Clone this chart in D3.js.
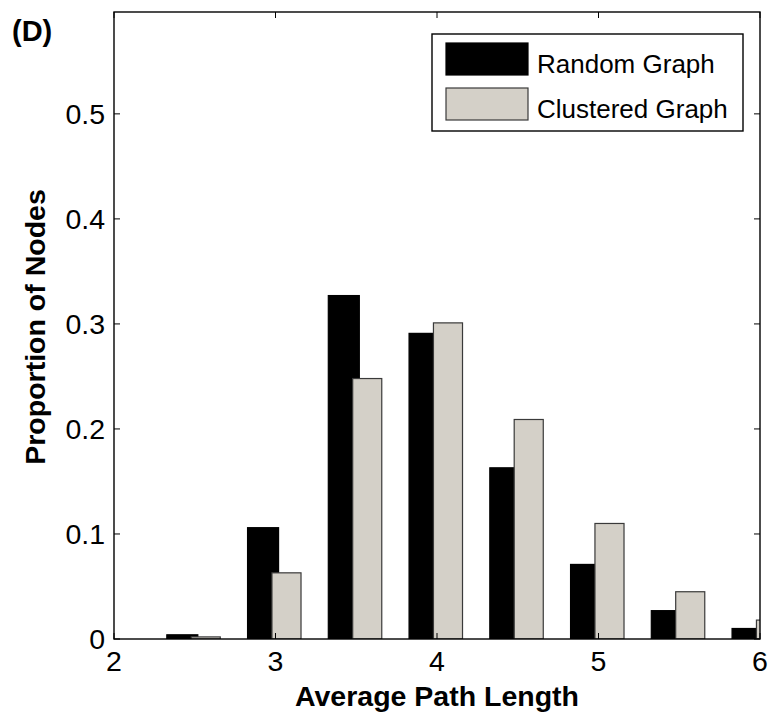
<!DOCTYPE html>
<html>
<head>
<meta charset="utf-8">
<script src="https://cdn.jsdelivr.net/npm/d3@7"></script>
<style>
  body { margin: 0; background: #fff; }
  svg { display: block; font-family: "Liberation Sans", Arial, sans-serif; }
</style>
</head>
<body>
<svg id="chart" width="775" height="719"></svg>
<script>
// bin centres (average path length)
var binCenters = [2.5, 3, 3.5, 4, 4.5, 5, 5.5, 6];
var randomGraph = [0.004, 0.106, 0.327, 0.291, 0.163, 0.071, 0.027, 0.010];
var clusteredGraph = [0.002, 0.063, 0.248, 0.301, 0.209, 0.110, 0.045, 0.018];
var seriesNames = ["Random Graph", "Clustered Graph"];
var xTicks = [2, 3, 4, 5, 6];
var yTicks = [0, 0.1, 0.2, 0.3, 0.4, 0.5];

var svg = d3.select("#chart"),
  margin = { top: 12, right: 15, bottom: 80, left: 114 },
  width = +svg.attr("width") - margin.left - margin.right,
  height = +svg.attr("height") - margin.top - margin.bottom,
  g = svg.append("g").attr("transform", "translate(" + margin.left + "," + margin.top + ")");

var x = d3.scaleLinear().domain([2, 6]).range([0, width]);
var y = d3.scaleLinear().domain([0, 0.597]).range([height, 0]);

svg.append("defs").append("clipPath").attr("id", "plotclip")
  .append("rect").attr("width", width).attr("height", height);

// bar extents relative to bin centre, in data units
var barSpan = [
  { key: "random", values: randomGraph, from: -0.173, to: 0.019, fill: "#000000", stroke: "#000000" },
  { key: "clustered", values: clusteredGraph, from: -0.022, to: 0.158, fill: "#d4d0c8", stroke: "#3a3a3a" }
];

var bars = g.append("g").attr("clip-path", "url(#plotclip)");

barSpan.forEach(function (s) {
  bars.append("g")
    .selectAll("rect")
    .data(binCenters.map(function (c, i) { return { c: c, v: s.values[i] }; }))
    .enter().append("rect")
    .attr("x", function (d) { return x(d.c + s.from); })
    .attr("width", function (d) { return x(d.c + s.to) - x(d.c + s.from); })
    .attr("y", function (d) { return y(d.v); })
    .attr("height", function (d) { return y(0) - y(d.v); })
    .attr("fill", s.fill)
    .attr("stroke", s.stroke)
    .attr("stroke-width", 1.2);
});

// inside ticks on all four sides
var tickLen = 6;
var ticks = g.append("g").attr("stroke", "#000").attr("stroke-width", 1);
xTicks.forEach(function (t) {
  ticks.append("line").attr("x1", x(t)).attr("x2", x(t)).attr("y1", height).attr("y2", height - tickLen);
  ticks.append("line").attr("x1", x(t)).attr("x2", x(t)).attr("y1", 0).attr("y2", tickLen);
});
yTicks.forEach(function (t) {
  ticks.append("line").attr("x1", 0).attr("x2", tickLen).attr("y1", y(t)).attr("y2", y(t));
  ticks.append("line").attr("x1", width).attr("x2", width - tickLen).attr("y1", y(t)).attr("y2", y(t));
});

// frame
g.append("rect")
  .attr("width", width)
  .attr("height", height)
  .attr("fill", "none")
  .attr("stroke", "#000")
  .attr("stroke-width", 1.4);

// tick labels
g.append("g").selectAll("text")
  .data(xTicks)
  .enter().append("text")
  .attr("x", function (d) { return x(d); })
  .attr("y", height + 32)
  .attr("text-anchor", "middle")
  .attr("font-size", 28.5)
  .text(function (d) { return d; });

g.append("g").selectAll("text")
  .data(yTicks)
  .enter().append("text")
  .attr("x", -9)
  .attr("y", function (d) { return y(d); })
  .attr("dy", "0.36em")
  .attr("text-anchor", "end")
  .attr("font-size", 28.5)
  .text(function (d) { return d === 0 ? "0" : d3.format(".1f")(d); });

// axis titles
svg.append("text")
  .attr("x", margin.left + width / 2)
  .attr("y", 706)
  .attr("text-anchor", "middle")
  .attr("font-size", 28.5)
  .attr("font-weight", "bold")
  .text("Average Path Length");

svg.append("text")
  .attr("transform", "translate(45," + 327 + ") rotate(-90)")
  .attr("text-anchor", "middle")
  .attr("font-size", 28.5)
  .attr("font-weight", "bold")
  .text("Proportion of Nodes");

svg.append("text")
  .attr("x", 12)
  .attr("y", 41)
  .attr("font-size", 29)
  .attr("font-weight", "bold")
  .text("(D)");

// legend
var legend = svg.append("g").attr("transform", "translate(432,34)");
legend.append("rect")
  .attr("width", 311)
  .attr("height", 97)
  .attr("fill", "#fff")
  .attr("stroke", "#000")
  .attr("stroke-width", 1.4);

var item = legend.selectAll("g.item")
  .data(barSpan)
  .enter().append("g")
  .attr("class", "item")
  .attr("transform", function (d, i) { return "translate(14," + (9 + i * 45) + ")"; });

item.append("rect")
  .attr("width", 82)
  .attr("height", 32)
  .attr("fill", function (d) { return d.fill; })
  .attr("stroke", function (d) { return d.stroke; })
  .attr("stroke-width", 1.2);

item.append("text")
  .attr("x", 91)
  .attr("y", 30)
  .attr("font-size", 26)
  .text(function (d, i) { return seriesNames[i]; });
</script>
</body>
</html>
